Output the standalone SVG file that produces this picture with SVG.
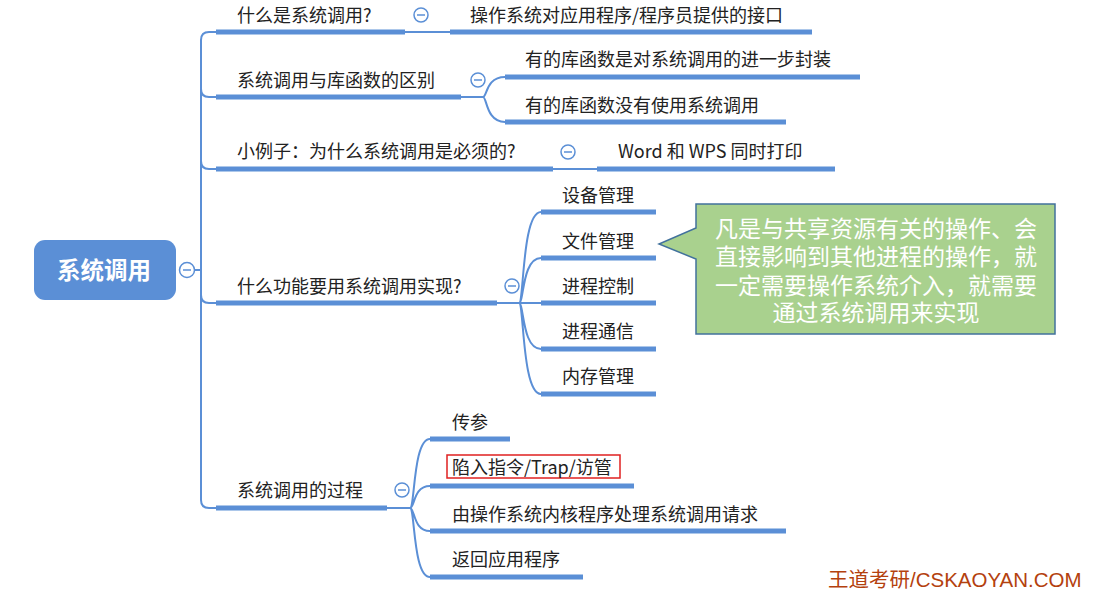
<svg xmlns="http://www.w3.org/2000/svg" width="1109" height="592" viewBox="0 0 1109 592">
<style>
.t{font-family:"Noto Sans CJK SC","Liberation Sans",sans-serif;font-size:18px;fill:#222}
.ul{stroke:#5b8fd6;stroke-width:5;fill:none}
.ln{stroke:#5b8fd6;stroke-width:2;fill:none}
.cc{fill:#fff;stroke:#5b8fd6;stroke-width:1.5}
.cm{stroke:#5b8fd6;stroke-width:1.5}
.co{font-family:"Liberation Sans","Noto Sans CJK SC",sans-serif;font-size:23px;fill:#fff;text-anchor:middle}
</style>
<rect width="1109" height="592" fill="#fff"/>
<g id="connectors">
  <path class="ln" d="M194,270 L201,270 M201,40 Q201,32 209,32 L216,32 M201,40 L201,500 Q201,508 209,508 L216,508"/>
  <path class="ln" d="M201,89 Q201,97 209,97 L216,97 M201,161 Q201,169 209,169 L216,169 M201,295 Q201,303 209,303 L216,303"/>
  <path class="ul" d="M216,32 L405,32"/>
  <path class="ln" d="M405,32 L450,32"/>
  <path class="ul" d="M450,32 L812,32"/>
  <path class="ul" d="M216,97 L461,97"/>
  <path class="ln" d="M461,97 L483,97 M483,97 C487,97 486,77 505,77 M483,97 C487,97 486,122 505,122"/>
  <path class="ul" d="M505,77 L860,77 M505,122 L786,122"/>
  <path class="ul" d="M216,169 L553,169"/>
  <path class="ln" d="M553,169 L597,169"/>
  <path class="ul" d="M597,169 L835,169"/>
  <path class="ul" d="M216,303 L497,303"/>
  <path class="ln" d="M497,303 L519,303 M519,303 C524,303 522,212 541,212 M519,303 C524,303 522,258 541,258 M519,303 L541,303 M519,303 C524,303 522,349 541,349 M519,303 C524,303 522,394 541,394"/>
  <path class="ul" d="M541,212 L656,212 M541,258 L656,258 M541,303 L656,303 M541,349 L656,349 M541,394 L656,394"/>
  <path class="ul" d="M216,508 L387,508"/>
  <path class="ln" d="M387,508 L410,508 M410,508 C415,508 413,439 430,439 M410,508 C415,508 413,486 430,486 M410,508 C415,508 413,531 430,531 M410,508 C415,508 413,577 430,577"/>
  <path class="ul" d="M430,439 L510,439 M430,486 L634,486 M430,531 L786,531 M430,577 L583,577"/>
</g>
<g id="root">
  <rect x="34" y="240" width="142" height="60" rx="11" fill="#5b8fd6"/>
  <text x="104" y="279" text-anchor="middle" font-family="'Noto Sans CJK SC',sans-serif" font-size="23.5" font-weight="bold" fill="#fff">系统调用</text>
  <circle class="cc" cx="187" cy="270" r="7.5"/>
  <path class="cm" d="M183,270 L191,270"/>
</g>
<g id="n1">
  <text class="t" x="237" y="22">什么是系统调用?</text>
  <circle class="cc" cx="421" cy="15" r="7"/><path class="cm" d="M417,15 L425,15"/>
</g>
<g id="n1a"><text class="t" x="470" y="22">操作系统对应用程序/程序员提供的接口</text></g>
<g id="n2">
  <text class="t" x="237" y="87">系统调用与库函数的区别</text>
  <circle class="cc" cx="478" cy="80" r="7"/><path class="cm" d="M474,80 L482,80"/>
</g>
<g id="n2a"><text class="t" x="525" y="66">有的库函数是对系统调用的进一步封装</text></g>
<g id="n2b"><text class="t" x="525" y="112">有的库函数没有使用系统调用</text></g>
<g id="n3">
  <text class="t" x="237" y="158">小例子：为什么系统调用是必须的?</text>
  <circle class="cc" cx="568" cy="152" r="7"/><path class="cm" d="M564,152 L572,152"/>
</g>
<g id="n3a"><text class="t" x="618" y="158">Word 和 WPS 同时打印</text></g>
<g id="n4">
  <text class="t" x="237" y="293">什么功能要用系统调用实现?</text>
  <circle class="cc" cx="512" cy="286" r="7"/><path class="cm" d="M508,286 L516,286"/>
</g>
<g id="n4a"><text class="t" x="562" y="202">设备管理</text></g>
<g id="n4b"><text class="t" x="562" y="248">文件管理</text></g>
<g id="n4c"><text class="t" x="562" y="293">进程控制</text></g>
<g id="n4d"><text class="t" x="562" y="338">进程通信</text></g>
<g id="n4e"><text class="t" x="562" y="383">内存管理</text></g>
<g id="callout">
  <path d="M696,204 L1055,204 L1055,334 L696,334 L696,259 L659,244 L696,228 Z" fill="#a9d18e" stroke="#41719c" stroke-width="1.5"/>
  <text class="co" x="876" y="237">凡是与共享资源有关的操作、会</text>
  <text class="co" x="876" y="265">直接影响到其他进程的操作，就</text>
  <text class="co" x="876" y="294">一定需要操作系统介入，就需要</text>
  <text class="co" x="876" y="321">通过系统调用来实现</text>
</g>
<g id="n5">
  <text class="t" x="237" y="497">系统调用的过程</text>
  <circle class="cc" cx="402" cy="490" r="7"/><path class="cm" d="M398,490 L406,490"/>
</g>
<g id="n5a"><text class="t" x="452" y="429">传参</text></g>
<g id="n5b">
  <rect x="447" y="455" width="173" height="23" fill="none" stroke="#e02020" stroke-width="1.5"/>
  <text class="t" x="452" y="474">陷入指令/Trap/访管</text>
</g>
<g id="n5c"><text class="t" x="452" y="521">由操作系统内核程序处理系统调用请求</text></g>
<g id="n5d"><text class="t" x="452" y="566">返回应用程序</text></g>
<text x="828" y="587" font-family="'Liberation Sans','Noto Sans CJK SC',sans-serif" font-size="20.5" fill="#b4410e">王道考研/CSKAOYAN.COM</text>
</svg>
